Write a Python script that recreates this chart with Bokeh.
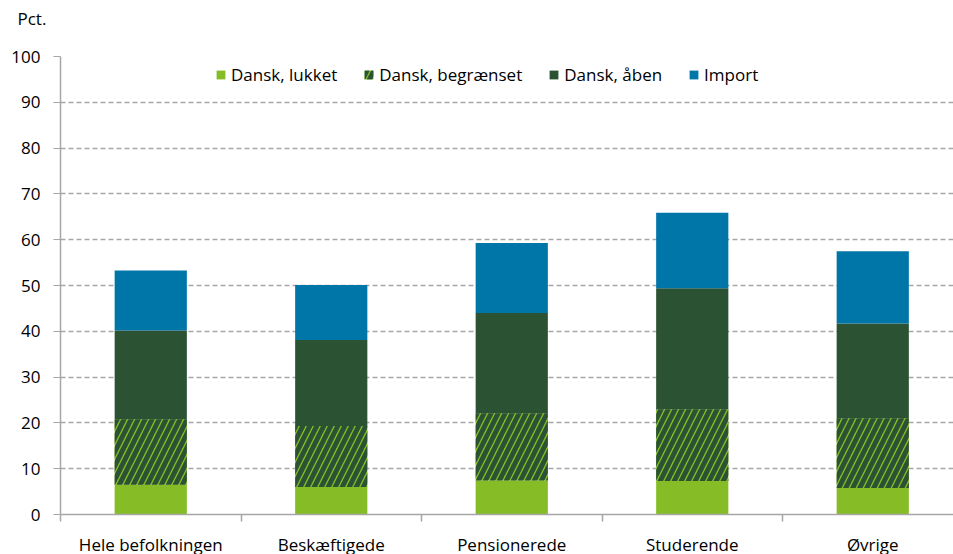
import numpy as np
from bokeh.plotting import figure
from bokeh.models import ColumnDataSource, FixedTicker, Legend, LegendItem, Range1d, Title
from bokeh.embed import file_html
from bokeh.resources import INLINE

categories = ["Hele befolkningen", "Beskæftigede", "Pensionerede", "Studerende", "Øvrige"]
series_names = ["Dansk, lukket", "Dansk, begrænset", "Dansk, åben", "Import"]
lukket = [6.5, 6.0, 7.4, 7.3, 5.8]
begraenset = [14.3, 13.3, 14.7, 15.7, 15.2]
aaben = [19.4, 18.8, 21.9, 26.4, 20.7]
importv = [13.1, 12.0, 15.3, 16.5, 15.8]
y_ticks = [0, 10, 20, 30, 40, 50, 60, 70, 80, 90, 100]

LIGHT = "#86bc25"
DARK = "#2c5234"
BLUE = "#0075a8"
FONT = "Open Sans"
FS = "17px"

x = np.arange(len(categories)) + 0.5
vals = np.array([lukket, begraenset, aaben, importv])
tops = np.cumsum(vals, axis=0)
bottoms = tops - vals

p = figure(width=953, height=558, output_backend="svg", toolbar_location=None,
           x_range=Range1d(0, 893 / 180.5), y_range=Range1d(0, 100),
           min_border_left=60, min_border_right=0, min_border_top=56, min_border_bottom=38)
p.outline_line_color = None
p.background_fill_color = "white"

renderers = []
for i, name in enumerate(series_names):
    src = ColumnDataSource(dict(x=x, top=tops[i], bottom=bottoms[i]))
    if i == 1:
        r = p.vbar(x="x", top="top", bottom="bottom", width=0.4, source=src,
                   fill_color=LIGHT, line_color=None,
                   hatch_pattern="/", hatch_color=DARK, hatch_scale=14, hatch_weight=5)
    else:
        col = [LIGHT, None, DARK, BLUE][i]
        r = p.vbar(x="x", top="top", bottom="bottom", width=0.4, source=src,
                   fill_color=col, line_color=None)
    renderers.append(r)

legend = Legend(items=[LegendItem(label=n, renderers=[r]) for n, r in zip(series_names, renderers)],
                orientation="horizontal", location=(155, 428),
                border_line_color=None, background_fill_alpha=0,
                label_text_font=FONT, label_text_font_size=FS, label_text_color="#000000",
                glyph_width=11, glyph_height=11, label_standoff=5, spacing=26,
                padding=0, margin=0, label_height=14)
p.add_layout(legend, "center")

# axes
yax = p.yaxis[0]
yax.ticker = FixedTicker(ticks=y_ticks)
yax.axis_line_color = "#a6a6a6"
yax.axis_line_width = 1.5
yax.major_tick_line_color = "#a6a6a6"
yax.major_tick_in = 0
yax.major_tick_out = 7
yax.minor_tick_line_color = None
yax.major_label_text_font = FONT
yax.major_label_text_font_size = FS
yax.major_label_text_color = "#000000"
yax.major_label_standoff = 13

xax = p.xaxis[0]
xax.ticker = FixedTicker(ticks=list(x), minor_ticks=[0, 1, 2, 3, 4, 5])
xax.major_label_overrides = {float(v): c for v, c in zip(x, categories)}
xax.axis_line_color = "#a6a6a6"
xax.axis_line_width = 1.5
xax.major_tick_line_color = None
xax.major_tick_in = 0
xax.major_tick_out = 0
xax.minor_tick_line_color = "#a6a6a6"
xax.minor_tick_line_width = 1.5
xax.minor_tick_in = 0
xax.minor_tick_out = 7
xax.major_label_text_font = FONT
xax.major_label_text_font_size = FS
xax.major_label_text_color = "#000000"
xax.major_label_standoff = 11

p.xgrid.grid_line_color = None
p.ygrid.ticker = FixedTicker(ticks=y_ticks[1:])
p.ygrid.grid_line_color = "#a6a6a6"
p.ygrid.grid_line_dash = "5 3"
p.ygrid.grid_line_width = 1.3

spacer = Title(text=" ", text_font=FONT, text_font_size=FS, standoff=0)
p.add_layout(spacer, "above")
t = Title(text="Pct.", align="left", offset=-43, text_font=FONT, text_font_size=FS,
          text_font_style="normal", text_color="#000000", standoff=4)
p.add_layout(t, "above")

open("out.html", "w").write(file_html(p, INLINE))
